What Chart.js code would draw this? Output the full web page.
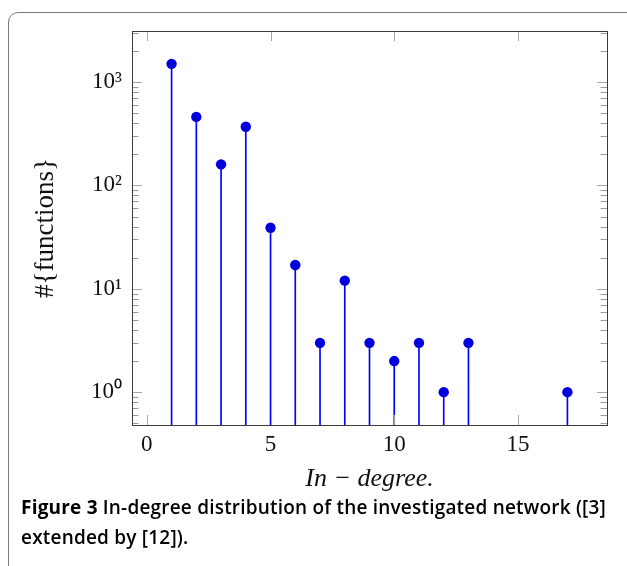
<!DOCTYPE html>
<html>
<head>
<meta charset="utf-8">
<script src="https://cdn.jsdelivr.net/npm/chart.js@4.4.0/dist/chart.umd.min.js"></script>
<style>
  body { margin: 0; background: #fff; width: 627px; height: 566px; overflow: hidden; position: relative; }
  #frame { position: absolute; left: 8px; top: 12px; width: 700px; height: 700px; border: 1.5px solid #7a7a7a; border-top-left-radius: 10px; }
  #chart { position: absolute; left: 0; top: 0; }
  #caption { position: absolute; left: 21px; top: 492px; font-family: "Open Sans"; font-size: 19px; letter-spacing: 0.2px; line-height: 30px; font-weight: 600; color: #000; white-space: nowrap; }
  #caption b { font-weight: 700; }
</style>
</head>
<body>
<div id="frame"></div>
<canvas id="chart" width="627" height="500"></canvas>
<div id="caption"><b>Figure 3</b> In-degree distribution of the investigated network ([3]<br>extended by [12]).</div>
<script>
var inDegree = [1, 2, 3, 4, 5, 6, 7, 8, 9, 10, 11, 12, 13, 17];
var functionsCount = [1500, 460, 160, 370, 39, 17, 3, 12, 3, 2, 3, 1, 3, 1];
var xTicks = [0, 5, 10, 15];
var yTicks = [1, 10, 100, 1000];
var yTickLabels = ['10⁰', '10¹', '10²', '10³'];

var points = inDegree.map(function (x, i) {
    return {x: x, y: functionsCount[i]};
});

// inward ticks + box, pgfplots style
var frameTicks = {
    id: 'frameTicks',
    afterDatasetsDraw: function (chart) {
        var ctx = chart.ctx, a = chart.chartArea;
        var xs = chart.scales.x, ys = chart.scales.y;
        ctx.save();
        ctx.lineWidth = 1;

        ctx.strokeStyle = '#a8a8a8';
        ctx.beginPath();
        xTicks.forEach(function (v) {
            var px = Math.round(xs.getPixelForValue(v)) + 0.5;
            ctx.moveTo(px, a.bottom); ctx.lineTo(px, a.bottom - 10);
            ctx.moveTo(px, a.top); ctx.lineTo(px, a.top + 10);
        });
        yTicks.forEach(function (v) {
            var py = Math.round(ys.getPixelForValue(v)) + 0.5;
            ctx.moveTo(a.left, py); ctx.lineTo(a.left + 10, py);
            ctx.moveTo(a.right, py); ctx.lineTo(a.right - 10, py);
        });
        ctx.stroke();

        ctx.strokeStyle = '#9a9a9a';
        ctx.beginPath();
        for (var k = -1; k <= 3; k++) {
            for (var m = 2; m <= 9; m++) {
                var v = m * Math.pow(10, k);
                if (v <= ys.min || v >= ys.max) continue;
                var py = Math.round(ys.getPixelForValue(v)) + 0.5;
                ctx.moveTo(a.left, py); ctx.lineTo(a.left + 6.5, py);
                ctx.moveTo(a.right, py); ctx.lineTo(a.right - 6.5, py);
            }
        }
        ctx.stroke();

        ctx.strokeStyle = '#3a3a3a';
        ctx.strokeRect(Math.round(a.left) + 0.5, Math.round(a.top) + 0.5,
            Math.round(a.right - a.left), Math.round(a.bottom - a.top));
        ctx.restore();
    }
};

const config = {
    type: 'bar',
    data: {
        datasets: [
            {
                type: 'bar',
                data: points,
                backgroundColor: '#0000ff',
                borderWidth: 0,
                barThickness: 1,
                order: 2
            },
            {
                type: 'scatter',
                data: points,
                pointRadius: 5.2,
                pointHoverRadius: 5.2,
                backgroundColor: '#0000dd',
                borderColor: '#0000dd',
                borderWidth: 0,
                order: 1
            }
        ]
    },
    options: {
        responsive: false,
        animation: false,
        layout: { padding: { top: 31, right: 20, left: 0, bottom: 0 } },
        plugins: {
            legend: { display: false },
            tooltip: { enabled: false }
        },
        scales: {
            x: {
                type: 'linear',
                min: -0.6,
                max: 18.6,
                offset: false,
                grid: { display: false, drawTicks: false },
                border: { display: false },
                afterBuildTicks: function (s) { s.ticks = xTicks.map(function (v) { return {value: v}; }); },
                afterFit: function (s) { s.height = 75; },
                ticks: {
                    padding: 6,
                    color: '#111',
                    font: { family: 'Liberation Serif', size: 23 },
                    callback: function (v) { return String(v); }
                },
                title: {
                    display: true,
                    text: 'In − degree.',
                    color: '#111',
                    font: { family: 'Liberation Serif', size: 26, style: 'italic', lineHeight: 1 },
                    padding: { bottom: 8 }
                }
            },
            y: {
                type: 'logarithmic',
                min: Math.pow(10, -0.3176),
                max: Math.pow(10, 3.494),
                grid: { display: false, drawTicks: false },
                border: { display: false },
                afterBuildTicks: function (s) { s.ticks = yTicks.map(function (v) { return {value: v}; }); },
                afterFit: function (s) { s.width = 132; },
                ticks: {
                    padding: 10,
                    color: '#111',
                    font: { family: 'Liberation Serif', size: 23 },
                    callback: function (v) {
                        var i = yTicks.indexOf(v);
                        return i >= 0 ? yTickLabels[i] : '';
                    }
                },
                title: {
                    display: true,
                    text: '#{functions}',
                    color: '#111',
                    font: { family: 'Liberation Serif', size: 27, lineHeight: 1 },
                    padding: { top: 32 }
                }
            }
        }
    },
    plugins: [frameTicks]
};

const myChart = new Chart(document.getElementById('chart'), config);
</script>
</body>
</html>
